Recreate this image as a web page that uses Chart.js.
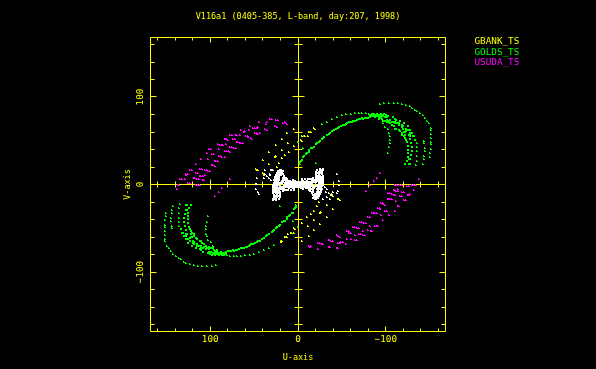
<!DOCTYPE html>
<html>
<head>
<meta charset="utf-8">
<title>V116a1 uv coverage</title>
<script src="https://cdn.jsdelivr.net/npm/chart.js@4"></script>
<style>
  html, body { margin: 0; padding: 0; background: #000; overflow: hidden; }
  canvas { display: block; }
</style>
</head>
<body>
<canvas id="uvChart" width="596" height="369"></canvas>
<script>
// values, as [u, v] pairs
const titleText = 'V116a1 (0405-385, L-band, day:207, 1998)';
const xAxisName = 'U-axis';
const yAxisName = 'V-axis';
const seriesNames = ['GBANK_TS', 'GOLDS_TS', 'USUDA_TS'];
const seriesColors = ['#ffff00', '#00ff00', '#ff00ff'];
const yTickValues = [100, 0, -100];

const gbankNorth = [
  [12,59],[4,64],[18,52],[25,45],[11,47],[4,44],[18,40],[33,37],[25,33],[10,37],[15,34],[18,30],
  [40,28],[33,23],[24,20],[48,18],[46,16],[40,13],[39,11],[22,25],[26,31],[47,17],
  [-18,65],[-19,64],[-12,60],[-15,60],[-4,55],[-8,55],[-3,51],[-11,56],[-5,50]
];
const gbankSouth = [
  [-12,-59],[-4,-64],[-18,-52],[-25,-45],[-11,-47],[-4,-44],[-18,-40],[-33,-37],[-25,-33],[-10,-37],[-15,-34],[-18,-30],
  [-40,-28],[-33,-23],[-24,-20],[-48,-18],[-46,-16],[-40,-13],[-39,-11],[-22,-25],[-26,-31],[-47,-17],
  [18,-65],[19,-66],[12,-60],[15,-60],[4,-55],[8,-55],[3,-51],[11,-56],[5,-50]
];

// thin outer tracks of GOLDS_TS
const goldsThinNorth = [
  [-93,92],[-98,93],[-104,93],[-109,93],[-114,93],[-118,92],[-123,91],[-127,90],[-130,88],[-133,85],[-136,84],
  [-139,82],[-142,79],[-145,76],[-147,73],[-149,70],[-151,65],[-152,62],[-152,58],[-152,53],[-152,49],[-152,46],
  [-151,41],[-150,36],[-150,32],
  [-143,50],[-144,47],[-145,42],[-145,38],[-144,33],[-143,29],[-142,24],
  [-19,64],[-27,69],[-33,72],[-39,75],[-44,77],[-50,79],[-55,80],[-60,81],[-65,82],[-69,82],[-73,82],[-78,82],
  [-81,81],[-7,55],[-14,60],[0,49],[-6,42],[-20,25],[-2,23],
  [-97,70],[-99,66],[-102,63],[-104,59],[-105,56],[-105,51],[-105,47],[-104,43],[-103,36],
  [-136,38],[-136,33],[-135,27],[-134,22],[-135,47],[-136,43]
];
const goldsThinSouth = [
  [93,-92],[98,-93],[104,-93],[109,-93],[114,-93],[118,-92],[123,-91],[127,-90],[130,-88],[133,-85],[136,-84],
  [139,-82],[142,-79],[145,-76],[147,-73],[149,-70],[151,-65],[152,-62],[152,-58],[152,-53],[152,-49],[152,-46],
  [151,-41],[150,-36],[150,-32],
  [143,-50],[144,-47],[145,-42],[145,-38],[144,-33],[143,-29],[142,-24],
  [19,-64],[27,-69],[33,-72],[39,-75],[44,-77],[50,-79],[55,-80],[60,-81],[65,-82],[69,-82],[73,-82],[78,-82],
  [81,-81],[7,-55],[14,-60],[0,-49],[6,-42],[20,-25],[2,-23],
  [97,-70],[99,-66],[102,-63],[104,-59],[105,-56],[105,-51],[105,-47],[104,-43],[103,-36],
  [136,-38],[136,-33],[135,-27],[134,-22],[135,-47],[136,-43]
];

// heavy inner arc and band of GOLDS_TS
const goldsBandNorth = [
  [-2,26],[-3,27],[-4,28],[-6,32],[-7,33],[-9,35],[-10,36],[-12,37],[-13,39],[-15,42],[-16,42],[-18,43],[-20,46],[-22,47],
  [-24,49],[-25,50],[-27,52],[-29,53],[-30,54],[-33,57],[-35,58],[-37,59],[-39,61],[-41,62],[-43,64],[-45,65],[-47,66],
  [-49,67],[-51,68],[-53,68],[-55,69],[-56,70],[-58,71],[-59,71],[-61,72],[-63,73],[-65,73],[-67,74],[-69,75],[-71,75],
  [-73,76],[-74,75],[-76,76],[-78,76],[-82,77],[-86,78],[-90,78],[-94,78],[-97,78],[-80,76],[-84,78],[-88,77],[-92,77],
  [-96,79],[-100,79],[-84,80],[-88,79],[-92,79],[-82,79],[-86,80],[-90,80],[-94,80],[-98,80],[-101,77],[-96,75],[-92,75],
  [-97,73],[-101,71],[-104,73],[-107,71],[-110,70],[-112,74],[-115,70],[-118,68],[-120,67],[-123,64],[-125,62],[-127,59],
  [-128,58],[-131,55],[-122,57],[-121,60],
  [-94,76],[-99,73],[-105,70],[-109,67],[-112,64],[-116,61],[-119,57],[-122,53],[-124,49],[-125,44],[-125,39],
  [-125,36],[-125,32],[-124,27],[-122,23],[-126,23],[-126,29],
  [-99,77],[-105,74],[-111,72],[-115,68],[-120,64],[-123,61],[-126,57],[-128,52],[-129,47],[-130,43],[-130,38],
  [-129,34],[-128,29],[-128,23],
  [-103,78],[-111,75],[-116,73],[-121,70],[-125,67],[-127,62],[-130,59],[-132,55],[-133,51],
  [-101,74],[-107,68],[-111,64],[-115,62],[-118,59],[-121,55],[-123,51],[-108,77],[-113,70],
  [-118,66],[-122,60],[-128,56],[-103,72],[-108,72]
];
const goldsBandSouth = [
  [2,-26],[3,-27],[4,-28],[6,-32],[7,-33],[9,-35],[10,-36],[12,-37],[13,-39],[15,-42],[16,-42],[18,-43],[20,-46],[22,-47],
  [24,-49],[25,-50],[27,-52],[29,-53],[30,-54],[33,-57],[35,-58],[37,-59],[39,-61],[41,-62],[43,-64],[45,-65],[47,-66],
  [49,-67],[51,-68],[53,-68],[55,-69],[56,-70],[58,-71],[59,-71],[61,-72],[63,-73],[65,-73],[67,-74],[69,-75],[71,-75],
  [73,-76],[74,-75],[76,-76],[78,-76],[82,-77],[86,-78],[90,-78],[94,-78],[97,-78],[80,-76],[84,-78],[88,-77],[92,-77],
  [96,-79],[100,-79],[84,-80],[88,-79],[92,-79],[82,-79],[86,-80],[90,-80],[94,-80],[98,-80],[101,-77],[96,-75],[92,-75],
  [97,-73],[101,-71],[104,-73],[107,-71],[110,-70],[112,-74],[115,-70],[118,-68],[120,-67],[123,-64],[125,-62],[127,-59],
  [128,-58],[131,-55],[122,-57],[121,-60],
  [94,-76],[99,-73],[105,-70],[109,-67],[112,-64],[116,-61],[119,-57],[122,-53],[124,-49],[125,-44],[125,-39],
  [125,-36],[125,-32],[124,-27],[122,-23],[126,-23],[126,-29],
  [99,-77],[105,-74],[111,-72],[115,-68],[120,-64],[123,-61],[126,-57],[128,-52],[129,-47],[130,-43],[130,-38],
  [129,-34],[128,-29],[128,-23],
  [103,-78],[111,-75],[116,-73],[121,-70],[125,-67],[127,-62],[130,-59],[132,-55],[133,-51],
  [101,-74],[107,-68],[111,-64],[115,-62],[118,-59],[121,-55],[123,-51],[108,-77],[113,-70],
  [118,-66],[122,-60],[128,-56],[103,-72],[108,-72]
];

const usudaNorth = [
  [23,74],[32,75],[15,71],[12,69],[44,71],[35,71],[36,69],[26,67],[24,66],[38,64],[35,62],[55,67],[56,62],[65,62],
  [46,66],[49,65],[49,59],[45,58],[47,59],[60,61],[66,57],[71,57],[75,57],[59,55],[54,53],[57,54],[74,52],[80,51],
  [83,52],[65,48],[68,49],[63,48],[82,46],[91,46],[87,45],[75,43],[71,42],[90,41],[99,41],[104,36],[81,38],[78,37],
  [96,35],[88,33],[83,32],[86,32],[110,29],[102,29],[95,27],[91,27],[116,23],[98,22],[95,21],[106,17],[112,18],
  [121,16],[100,15],[104,16],[125,12],[127,11],[116,13],[106,11],[110,10],[129,6],[132,6],[113,6],[119,7],[107,5],
  [123,2],[114,0],[112,-1],[135,-1],[78,6],[86,-4],[138,-5],[90,-8],[94,-13],
  [-93,13],[-90,8],[-82,-1],[-138,6],
  [25,74],[30,75],[17,70],[14,70],[47,65],[51,65],[47,58],[43,59],[62,60],[69,57],[57,55],[52,52],[77,57],[72,52],[82,52],
  [66,48],[70,49],[89,45],[85,45],[77,43],[73,42],[79,38],[83,38],[98,35],[90,33],[93,27],[97,22],[109,18],[123,16],
  [102,15],[114,13],[127,12],[108,10],[112,10],[134,6],[117,7],[115,6],[125,2],[116,0],[137,-1],[108,5],[81,52],[101,41]
];
const usudaSouth = [
  [-13,-70],[-14,-71],[-23,-67],[-27,-68],[-35,-63],[-38,-64],[-23,-74],[-35,-71],[-44,-72],[-46,-67],[-49,-66],
  [-44,-58],[-46,-59],[-48,-60],[-56,-53],[-58,-55],[-56,-62],[-55,-68],[-60,-62],[-65,-63],[-63,-49],[-67,-50],
  [-65,-58],[-70,-57],[-74,-58],[-74,-53],[-71,-43],[-75,-44],[-80,-37],[-82,-47],[-83,-53],[-80,-52],[-88,-47],
  [-91,-47],[-84,-33],[-88,-33],[-86,-33],[-97,-41],[-95,-35],[-93,-28],[-91,-27],[-101,-30],[-104,-35],[-95,-21],
  [-99,-23],[-97,-22],[-111,-30],[-102,-16],[-105,-17],[-112,-19],[-115,-24],[-116,-13],[-121,-18],[-103,-10],
  [-107,-11],[-109,-12],[-112,-7],[-119,-8],[-125,-12],[-128,-11],[-78,-7],[-111,0],[-116,-1],[-124,-2],[-132,-1],
  [-132,-6],[-86,4],[-134,0],[-109,-6],[-114,-5],
  [-15,-70],[-25,-67],[-29,-68],[-37,-63],[-40,-64],[-37,-71],[-46,-72],[-48,-67],[-51,-66],[-60,-55],[-58,-53],[-67,-63],
  [-69,-50],[-65,-49],[-72,-57],[-76,-58],[-73,-43],[-77,-44],[-82,-37],[-84,-53],[-90,-47],[-90,-33],[-93,-27],[-99,-30],
  [-97,-21],[-104,-16],[-107,-17],[-114,-24],[-118,-13],[-123,-18],[-105,-10],[-110,-12],[-114,-7],[-121,-8],[-126,-12],
  [-113,0],[-118,-1],[-126,-2],[-130,-1],[-111,-6]
];

// white points around the origin, not named in the legend
const otherBlobWest = [
  [21,17],[19,16],[23,15],[20,14],[17,15],[24,13],[21,12],[18,13],[25,11],[22,10],[19,11],[16,10],[26,9],[23,8],
  [17,8],[26,6],[23,6],[17,6],[14,7],[27,5],[24,4],[18,4],[15,5],[12,5],[9,4],[6,5],[3,4],[27,2],[24,2],
  [21,2],[18,2],[15,2],[12,3],[9,2],[6,3],[3,2],[1,3],[28,0],[25,0],[22,0],[16,0],[13,1],[10,0],[7,1],[4,0],[1,1],
  [28,-2],[25,-2],[16,-2],[13,-1],[10,-2],[7,-1],[4,-2],[1,-1],[28,-4],[25,-4],[22,-4],[19,-4],[16,-4],
  [13,-3],[10,-4],[7,-3],[4,-4],[1,-3],[28,-6],[25,-6],[22,-6],[18,-5],[14,-6],[11,-6],[8,-6],[5,-6],[28,-8],[25,-8],
  [21,-8],[17,-7],[28,-10],[25,-10],[21,-10],[27,-12],[24,-12],[21,-12],[27,-14],[24,-14],[21,-14],[28,-16],[25,-16],
  [28,-18],[25,-18],[22,-16],
  [20,16],[22,14],[19,14],[23,12],[20,12],[17,12],[24,10],[25,8],[22,8],[16,8],[25,5],[22,5],
  [16,5],[13,6],[26,3],[23,3],[17,3],[14,3],[11,4],[8,3],[5,3],[2,3],[26,1],[23,1],[14,1],[11,2],[8,1],
  [5,2],[2,1],[27,-1],[24,-1],[15,-1],[12,-1],[9,-1],[6,-2],[3,-1],[27,-3],[24,-3],[21,-3],[18,-3],[15,-3],
  [12,-3],[9,-3],[6,-4],[3,-3],[27,-5],[24,-5],[21,-5],[16,-6],[27,-7],[24,-7],[22,-8],[27,-9],[23,-10],[26,-13],[23,-13],
  [26,-15],[26,-17]
];
const otherBlobEast = [
  [-21,-17],[-19,-16],[-23,-15],[-20,-14],[-17,-15],[-24,-13],[-21,-12],[-18,-13],[-25,-11],[-22,-10],[-19,-11],[-16,-10],
  [-26,-9],[-23,-8],[-17,-8],[-26,-6],[-23,-6],[-17,-6],[-14,-7],[-27,-5],[-24,-4],[-18,-4],
  [-15,-5],[-12,-5],[-9,-4],[-6,-5],[-3,-4],[-27,-2],[-24,-2],[-21,-2],[-18,-2],[-15,-2],[-12,-3],[-9,-2],[-6,-3],[-3,-2],
  [-1,-3],[-28,0],[-25,0],[-22,0],[-16,0],[-13,-1],[-10,0],[-7,-1],[-4,0],[-1,-1],[-28,2],[-25,2],
  [-16,2],[-13,1],[-10,2],[-7,1],[-4,2],[-1,1],[-28,4],[-25,4],[-22,4],[-19,4],[-16,4],[-13,3],[-10,4],[-7,3],[-4,4],[-1,3],
  [-28,6],[-25,6],[-22,6],[-18,5],[-14,6],[-11,6],[-8,6],[-5,6],[-28,8],[-25,8],[-21,8],[-17,7],[-28,10],[-25,10],[-21,10],
  [-27,12],[-24,12],[-21,12],[-27,14],[-24,14],[-21,14],[-28,16],[-25,16],[-28,18],[-25,18],[-22,16],
  [-20,-16],[-22,-14],[-19,-14],[-23,-12],[-20,-12],[-17,-12],[-24,-10],[-25,-8],[-22,-8],[-16,-8],
  [-25,-5],[-22,-5],[-16,-5],[-13,-6],[-26,-3],[-23,-3],[-17,-3],[-14,-3],[-11,-4],[-8,-3],[-5,-3],[-2,-3],
  [-26,-1],[-23,-1],[-14,-1],[-11,-2],[-8,-1],[-5,-2],[-2,-1],[-27,1],[-24,1],[-15,1],[-12,1],
  [-9,1],[-6,2],[-3,1],[-27,3],[-24,3],[-21,3],[-18,3],[-15,3],[-12,3],[-9,3],[-6,4],[-3,3],[-27,5],[-24,5],[-21,5],[-16,6],
  [-27,7],[-24,7],[-22,8],[-27,9],[-23,10],[-26,13],[-23,13],[-26,15],[-26,17]
];
const otherArcs = [
  [47,7],[48,1],[48,-5],[46,-8],[44,-11],[31,16],[32,11],[31,5],[38,16],[47,8],[47,1],[32,12],[30,16],[33,8],[29,17],
  [35,10],[38,12],[39,8],
  [-44,12],[-47,4],[-47,-1],[-45,-7],[-44,-10],[-38,-12],[-40,-8],[-35,-10],[-31,-3],[-32,-8],[-33,-14],[-29,-16],
  [-36,-16],[-33,-5]
];

const yellow = seriesColors[0];
const monoFamily = '"DejaVu Sans Mono", monospace';

const toXY = pairs => pairs.map(([x, y]) => ({ x, y }));
const snap = p => Math.floor(p) + 0.5;

// hard edged 2x2 sprite used as the point style; notched marks have one corner missing
function sprite(color, notched) {
  const c = document.createElement('canvas');
  c.width = 2;
  c.height = 2;
  const g = c.getContext('2d');
  g.fillStyle = color;
  g.fillRect(0, 0, 2, 2);
  if (notched) g.clearRect(1, 0, 1, 1);
  return c;
}

function series(label, pairs, color, notched) {
  return { label, data: toXY(pairs), pointStyle: sprite(color, notched), pointRadius: 1, showLine: false };
}

function tickText(v) {
  if (v === 0) return '0';
  return v < 0 ? '\u2212' + (-v) : String(v);
}

// pgplot style frame, zero axes and inward ticks, drawn under the points
const framePlugin = {
  id: 'frame',
  beforeDatasetsDraw(chart) {
    const { ctx, chartArea: a, scales: { x, y } } = chart;
    const left = snap(a.left), right = snap(a.right), top = snap(a.top), bottom = snap(a.bottom);
    const x0 = snap(x.getPixelForValue(0)), y0 = snap(y.getPixelForValue(0));
    ctx.save();
    ctx.strokeStyle = yellow;
    ctx.lineWidth = 1;
    ctx.beginPath();
    ctx.rect(left, top, right - left, bottom - top);
    ctx.moveTo(left, y0); ctx.lineTo(right, y0);
    ctx.moveTo(x0, top); ctx.lineTo(x0, bottom);
    x.ticks.forEach(t => {
      if (t.value < x.min || t.value > x.max) return;
      const major = t.value % 100 === 0;
      const px = snap(x.getPixelForValue(t.value));
      const len = major ? 5 : 3;
      ctx.moveTo(px, top); ctx.lineTo(px, top + len);
      ctx.moveTo(px, bottom); ctx.lineTo(px, bottom - len);
      ctx.moveTo(px, y0 - (major ? 5 : 3)); ctx.lineTo(px, y0 + (major ? 5 : 3));
    });
    y.ticks.forEach(t => {
      if (t.value < y.min || t.value > y.max) return;
      const major = t.value % 100 === 0;
      const py = snap(y.getPixelForValue(t.value));
      const len = major ? 6 : 4;
      ctx.moveTo(left, py); ctx.lineTo(left + len, py);
      ctx.moveTo(right, py); ctx.lineTo(right - len, py);
      ctx.moveTo(x0 - (major ? 6 : 4), py); ctx.lineTo(x0 + (major ? 6 : 4), py);
    });
    ctx.stroke();
    ctx.restore();
  },
  // snap the marks to whole pixels so they stay hard edged like the original
  afterDatasetsUpdate(chart) {
    chart.data.datasets.forEach((ds, i) => {
      chart.getDatasetMeta(i).data.forEach(pt => {
        pt.x = Math.round(pt.x);
        pt.y = Math.round(pt.y);
      });
    });
  },
  afterDraw(chart) {
    const { ctx, scales: { y } } = chart;
    ctx.save();
    ctx.font = '9.3px ' + monoFamily;
    // rotated v tick labels
    ctx.fillStyle = yellow;
    ctx.textAlign = 'center';
    ctx.textBaseline = 'middle';
    yTickValues.forEach(v => {
      ctx.save();
      ctx.translate(141, y.getPixelForValue(v));
      ctx.rotate(-Math.PI / 2);
      ctx.fillText(tickText(v), 0, 0);
      ctx.restore();
    });
    // legend is coloured text only
    ctx.textAlign = 'left';
    seriesNames.forEach((name, i) => {
      ctx.fillStyle = seriesColors[i];
      ctx.fillText(name, 474.5, 42 + i * 10.5);
    });
    ctx.restore();
  }
};

new Chart(document.getElementById('uvChart'), {
  type: 'scatter',
  plugins: [framePlugin],
  data: {
    datasets: [
      series(seriesNames[0], gbankNorth.concat(gbankSouth), seriesColors[0], true),
      series(seriesNames[1], goldsThinNorth.concat(goldsThinSouth), seriesColors[1], true),
      series(seriesNames[1], goldsBandNorth.concat(goldsBandSouth), seriesColors[1], false),
      series(seriesNames[2], usudaNorth.concat(usudaSouth), seriesColors[2], true),
      series('other', otherArcs, '#ffffff', true),
      series('other', otherBlobWest.concat(otherBlobEast), '#ffffff', false)
    ]
  },
  options: {
    responsive: false,
    animation: false,
    devicePixelRatio: 1,
    layout: { padding: { left: 120.5, right: 120.5, top: 0, bottom: 0 } },
    plugins: {
      legend: { display: false },
      tooltip: { enabled: false },
      title: {
        display: true,
        text: titleText,
        color: yellow,
        font: { family: monoFamily, size: 8.5, weight: 'normal' },
        padding: { top: 11.5, bottom: 15.8 }
      }
    },
    scales: {
      x: {
        type: 'linear',
        reverse: true,
        min: -168,
        max: 168,
        afterFit: s => { s.height = 37.5; },
        border: { display: false },
        grid: { display: false, drawTicks: false },
        ticks: {
          stepSize: 20,
          includeBounds: false,
          autoSkip: false,
          maxRotation: 0,
          padding: 3,
          color: yellow,
          font: { family: monoFamily, size: 9.3 },
          callback: v => (v % 100 === 0 ? tickText(v) : '')
        },
        title: {
          display: true,
          text: xAxisName,
          color: yellow,
          font: { family: monoFamily, size: 8.5 },
          padding: { top: 0, bottom: 6 }
        }
      },
      y: {
        type: 'linear',
        min: -168,
        max: 168,
        afterFit: s => { s.width = 30; },
        border: { display: false },
        grid: { display: false, drawTicks: false },
        ticks: {
          stepSize: 20,
          includeBounds: false,
          autoSkip: false,
          color: 'rgba(0,0,0,0)',
          font: { family: monoFamily, size: 9.3 },
          callback: v => (v % 100 === 0 ? tickText(v) : '')
        },
        title: {
          display: true,
          text: yAxisName,
          color: yellow,
          font: { family: monoFamily, size: 8.5 },
          padding: { top: 2, bottom: 0 }
        }
      },
      // empty scale that keeps the plot centred under the title
      yRight: {
        type: 'linear',
        position: 'right',
        afterFit: s => { s.width = 30; },
        border: { display: false },
        grid: { display: false, drawTicks: false },
        ticks: { display: false }
      }
    }
  }
});
</script>
</body>
</html>
